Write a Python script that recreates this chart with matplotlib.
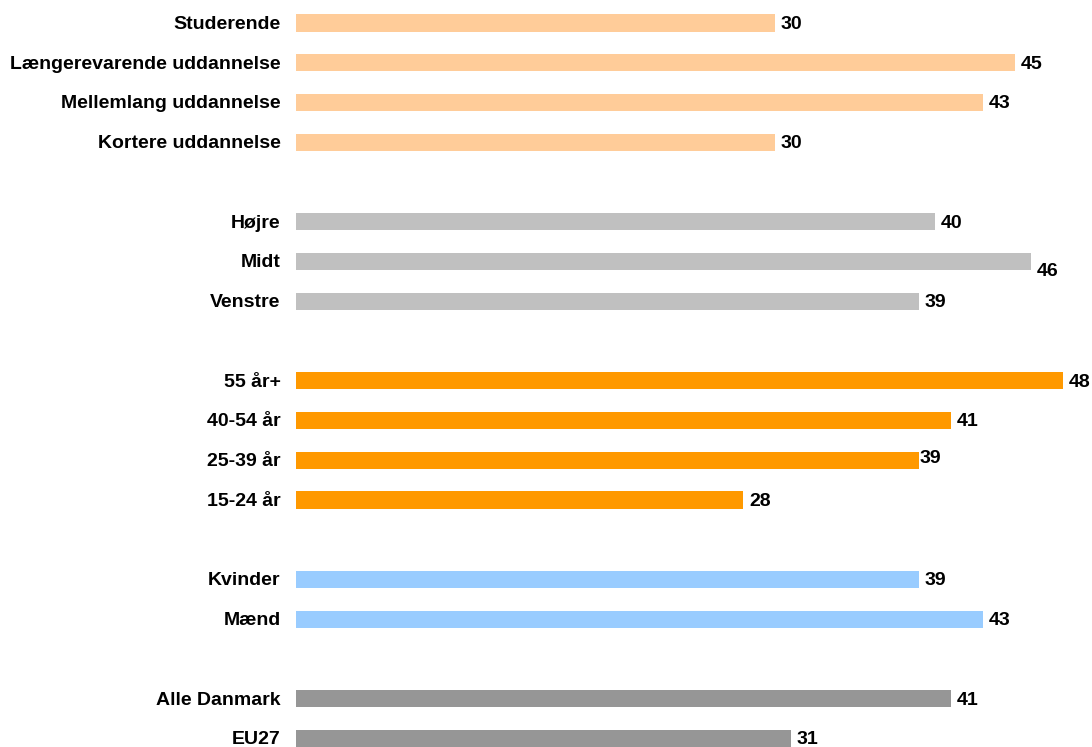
import numpy as np
import matplotlib
import matplotlib.pyplot as plt
matplotlib.rcParams.update({'font.family': ['Liberation Sans', 'DejaVu Sans'],
                            'font.weight': 'bold', 'font.size': 14})

# categories top to bottom, None = blank spacer row
labels = ['Studerende', 'Længerevarende uddannelse', 'Mellemlang uddannelse',
          'Kortere uddannelse', None,
          'Højre', 'Midt', 'Venstre', None,
          '55 år+', '40-54 år', '25-39 år', '15-24 år', None,
          'Kvinder', 'Mænd', None,
          'Alle Danmark', 'EU27']
values = [30, 45, 43, 30, None,
          40, 46, 39, None,
          48, 41, 39, 28, None,
          39, 43, None,
          41, 31]
colors = ['#FFCC99'] * 5 + ['#C0C0C0'] * 4 + ['#FF9900'] * 5 + ['#99CCFF'] * 3 + ['#969696'] * 2

# small nudges of a few data labels (points), as in the original
label_dx = {6: 0, 11: -4}
label_dy = {6: -6, 11: 2}

fig = plt.figure(figsize=(10.92, 7.47), dpi=100)
ax = fig.add_axes([296 / 1092, 0, 783 / 1092, 1])

for i, (lab, v) in enumerate(zip(labels, values)):
    if v is None:
        continue
    ax.barh(i, v, height=0.43, color=colors[i], edgecolor='none')
    ax.annotate(str(v), (v, i), xytext=(4 + label_dx.get(i, 0), label_dy.get(i, 0) - 1),
                textcoords='offset points', ha='left', va='center', fontweight='bold')
    ax.annotate(lab, (0, i), xytext=(-11, -1), textcoords='offset points',
                ha='right', va='center', fontweight='bold', annotation_clip=False)

ax.set_xlim(0, 49)
ax.set_ylim((747 - 23) / 39.75, -23 / 39.75)
ax.axis('off')

plt.savefig('out.png', dpi=100)
